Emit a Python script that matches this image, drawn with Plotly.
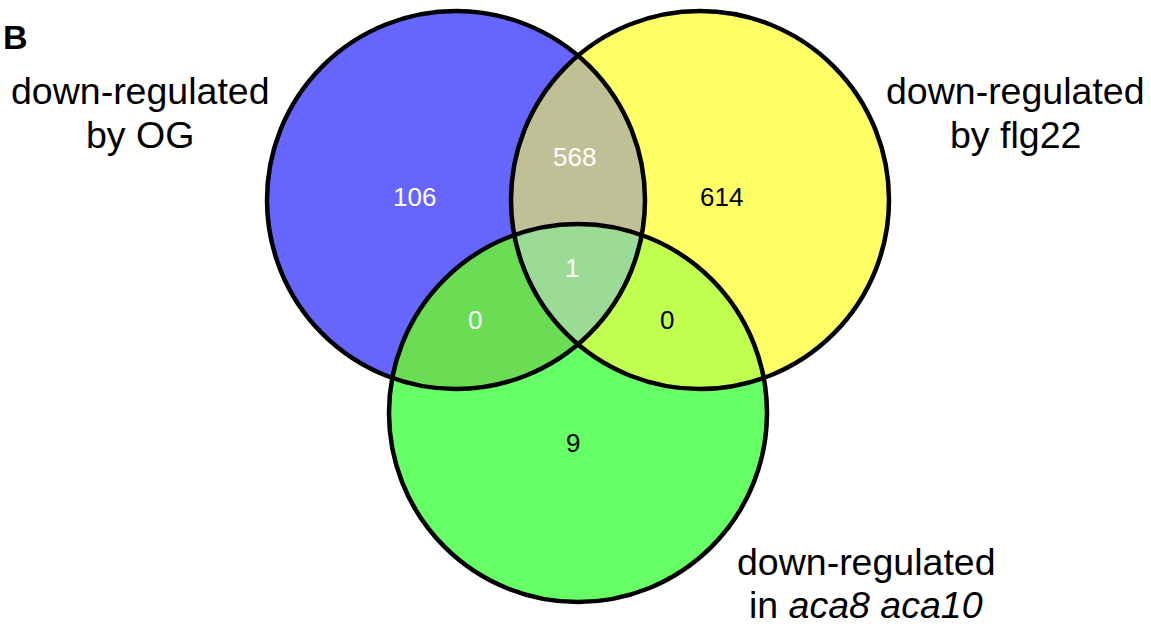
import numpy as np
import plotly.graph_objects as go

# ---- data ----
set_names = ["OG", "flg22", "aca8 aca10"]
set_label_lines = [
    ["down-regulated", "by OG"],
    ["down-regulated", "by flg22"],
    ["down-regulated", "in <i>aca8 aca10</i>"],
]
region_keys = ["100", "010", "001", "110", "101", "011", "111"]
region_counts = [106, 614, 9, 568, 0, 0, 1]

# ---- geometry / style (pixel-like data units) ----
W, H = 1151, 627
R = 189
centers = [(456, 200), (700, 200), (578, 413)]
set_colors = ["#6666FF", "#FFFF66", "#66FF66"]
overlap_colors = {"110": "#C0C096", "101": "#6ADD55", "011": "#C0FF50", "111": "#9BDB96"}
count_pos = {"100": (414, 197), "010": (721, 197), "001": (573, 443),
             "110": (574, 157), "101": (475, 320), "011": (667, 320), "111": (572, 268)}
count_color = {"100": "white", "010": "black", "001": "black", "110": "white",
               "101": "white", "011": "black", "111": "white"}
label_pos = [[(140, 91), (140, 135)], [(1015, 91), (1015, 135)], [(866, 562), (866, 605)]]
FONT = "Liberation Sans, Arial, Helvetica, sans-serif"


def intersection_polygon(idx, n=2000):
    pts = []
    t = np.linspace(0, 2 * np.pi, n, endpoint=False)
    for i in idx:
        cx, cy = centers[i]
        x = cx + R * np.cos(t)
        y = cy + R * np.sin(t)
        m = np.ones_like(x, dtype=bool)
        for j in idx:
            if j == i:
                continue
            ox, oy = centers[j]
            m &= (x - ox) ** 2 + (y - oy) ** 2 <= R ** 2 + 1e-6
        pts += list(zip(x[m], y[m]))
    # exact pairwise intersection corners
    for a in idx:
        for b in idx:
            if b <= a:
                continue
            (x1, y1), (x2, y2) = centers[a], centers[b]
            d = np.hypot(x2 - x1, y2 - y1)
            h = np.sqrt(max(R ** 2 - (d / 2) ** 2, 0))
            mx, my = (x1 + x2) / 2, (y1 + y2) / 2
            ux, uy = -(y2 - y1) / d, (x2 - x1) / d
            for s in (1, -1):
                px, py = mx + s * h * ux, my + s * h * uy
                if all((px - centers[k][0]) ** 2 + (py - centers[k][1]) ** 2 <= R ** 2 + 1e-3 for k in idx):
                    pts.append((px, py))
    pts = np.array(pts)
    c = pts.mean(axis=0)
    order = np.argsort(np.arctan2(pts[:, 1] - c[1], pts[:, 0] - c[0]))
    pts = pts[order]
    return pts[:, 0], pts[:, 1]


fig = go.Figure()

# full circles
t = np.linspace(0, 2 * np.pi, 721)
for (cx, cy), col in zip(centers, set_colors):
    fig.add_trace(go.Scatter(x=cx + R * np.cos(t), y=cy + R * np.sin(t), mode="lines",
                             fill="toself", fillcolor=col, line=dict(width=0, color=col),
                             hoverinfo="skip", showlegend=False))

# overlaps
for key in ["110", "101", "011", "111"]:
    idx = [i for i, ch in enumerate(key) if ch == "1"]
    x, y = intersection_polygon(idx)
    col = overlap_colors[key]
    fig.add_trace(go.Scatter(x=x, y=y, mode="lines", fill="toself", fillcolor=col,
                             line=dict(width=0, color=col), hoverinfo="skip", showlegend=False))

# outlines
for cx, cy in centers:
    fig.add_shape(type="circle", xref="x", yref="y", x0=cx - R, x1=cx + R, y0=cy - R, y1=cy + R,
                  line=dict(color="black", width=4.5), fillcolor="rgba(0,0,0,0)")

# counts
for key, val in zip(region_keys, region_counts):
    x, y = count_pos[key]
    fig.add_annotation(x=x, y=y, text=str(val), showarrow=False, xanchor="center", yanchor="middle",
                       font=dict(family=FONT, size=26, color=count_color[key]))

# set labels
for lines, poss in zip(set_label_lines, label_pos):
    for txt, (x, y) in zip(lines, poss):
        fig.add_annotation(x=x, y=y, text=txt, showarrow=False, xanchor="center", yanchor="middle",
                           font=dict(family=FONT, size=37.5, color="black"))

# panel letter
fig.add_annotation(x=1, y=37, text="<b>B</b>", showarrow=False, xanchor="left", yanchor="middle",
                   font=dict(family=FONT, size=34, color="black"))

fig.update_layout(
    width=W, height=H, autosize=False,
    margin=dict(l=0, r=0, t=0, b=0, pad=0),
    paper_bgcolor="white", plot_bgcolor="white",
    xaxis=dict(range=[0, W], visible=False, fixedrange=True),
    yaxis=dict(range=[H, 0], visible=False, fixedrange=True),
    showlegend=False,
)

fig.write_html("out.html", config={"displayModeBar": False},
               post_script="document.body.style.margin='0';document.body.style.overflow='hidden';")
